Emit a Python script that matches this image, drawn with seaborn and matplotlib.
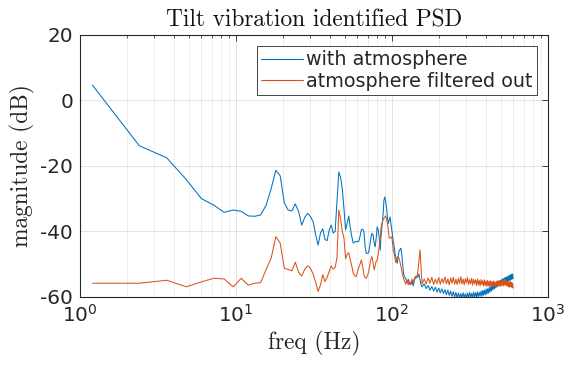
import numpy as np
import pandas as pd
import matplotlib
matplotlib.use("Agg")
import matplotlib.pyplot as plt
import seaborn as sns
from matplotlib.ticker import LogLocator, NullFormatter, FixedLocator

# ---------------- data ----------------
freq_low = [1.2, 2.4, 3.6, 4.8, 6.0, 7.2, 8.4, 9.6, 10.8, 12.0,
            13.2, 14.4, 15.6, 16.8, 18.0, 19.2, 20.4, 21.6, 22.8, 24.0,
            25.2, 26.4, 27.6, 28.8, 30.0, 31.2, 32.4, 33.6, 34.8, 36.0,
            37.2, 38.4, 39.6, 40.8, 42.0, 43.2, 44.4, 45.6, 46.8, 48.0,
            49.2, 50.4, 51.6, 52.8, 54.0, 55.2, 56.4, 57.6, 58.8, 60.0,
            61.2, 62.4, 63.6, 64.8, 66.0, 67.2, 68.4, 69.6, 70.8, 72.0,
            73.2, 74.4, 75.6, 76.8, 78.0, 79.2, 80.4, 81.6, 82.8, 84.0,
            85.2, 86.4, 87.6, 88.8, 90.0, 91.2, 92.4, 93.6, 94.8, 96.0,
            97.2, 98.4, 99.6, 100.8, 102.0, 103.2, 104.4, 105.6, 106.8, 108.0,
            109.2, 110.4, 111.6, 112.8, 114.0, 115.2, 116.4, 117.6, 118.8, 120.0]
freq_mid = [122.4, 124.8, 127.2, 129.6, 132.0, 134.4, 136.8, 139.2, 141.6, 144.0,
            146.4, 148.8, 151.2, 153.6, 156.0]
freq_high = [160.8, 165.6, 170.4, 175.2, 180.0, 184.8, 189.6, 194.4, 199.2, 204.0,
             208.8, 213.6, 218.4, 223.2, 228.0, 232.8, 237.6, 242.4, 247.2, 252.0,
             256.8, 261.6, 266.4, 271.2, 276.0, 280.8, 285.6, 290.4, 295.2, 300.0,
             304.8, 309.6, 314.4, 319.2, 324.0, 328.8, 333.6, 338.4, 343.2, 348.0,
             352.8, 357.6, 362.4, 367.2, 372.0, 376.8, 381.6, 386.4, 391.2, 396.0,
             400.8, 405.6, 410.4, 415.2, 420.0, 424.8, 429.6, 434.4, 439.2, 444.0,
             448.8, 453.6, 458.4, 463.2, 468.0, 472.8, 477.6, 482.4, 487.2, 492.0,
             496.8, 501.6, 506.4, 511.2, 516.0, 520.8, 525.6, 530.4, 535.2, 540.0,
             544.8, 549.6, 554.4, 559.2, 564.0, 568.8, 573.6, 578.4, 583.2, 588.0,
             592.8, 597.6]

with_atm_low = [4.6, -13.9, -17.6, -24.2, -30.0, -32.0, -34.2, -33.5, -33.9, -35.3,
                -35.4, -35.0, -32.0, -27.0, -21.4, -23.1, -31.3, -33.5, -33.8, -31.6,
                -34.0, -38.1, -35.7, -34.5, -35.5, -37.0, -41.0, -44.2, -40.5, -39.2,
                -42.5, -42.8, -39.5, -38.1, -40.5, -40.0, -31.0, -21.9, -23.5, -27.0,
                -33.0, -39.5, -37.5, -35.3, -38.8, -41.5, -43.5, -43.3, -43.0, -43.2,
                -43.0, -41.5, -39.5, -39.3, -40.0, -44.5, -46.7, -46.7, -46.5, -44.5,
                -42.0, -40.6, -41.0, -43.5, -44.7, -42.0, -38.6, -39.5, -42.0, -45.7,
                -41.0, -38.0, -35.0, -30.5, -29.5, -31.0, -33.0, -36.0, -37.6, -36.5,
                -35.6, -37.5, -39.6, -41.0, -43.2, -44.5, -46.5, -47.7, -48.5, -49.7,
                -48.0, -46.5, -45.7, -45.5, -45.2, -46.5, -48.7, -51.0, -53.0, -53.8]
with_atm_mid = [-54.3, -55.6, -54.6, -55.9, -56.3, -55.0, -56.6, -54.9, -54.0, -53.6,
                -53.9, -53.0, -54.7, -56.3, -56.9]
with_atm_high = [-56.0, -57.4, -56.5, -57.9, -56.8, -58.2, -57.0, -58.5, -57.3, -58.7,
                 -57.5, -58.9, -57.8, -59.3, -57.9, -59.5, -58.2, -59.8, -58.4, -60.0,
                 -58.6, -60.2, -58.8, -60.3, -58.9, -60.4, -58.7, -60.2, -59.0, -60.4,
                 -58.8, -60.1, -58.6, -60.3, -58.9, -60.0, -58.5, -60.2, -58.7, -59.9,
                 -58.4, -60.0, -58.6, -59.7, -58.2, -59.8, -58.0, -59.5, -57.9, -59.3,
                 -57.6, -59.1, -57.5, -58.8, -57.1, -58.5, -56.8, -58.2, -56.5, -57.8,
                 -56.2, -57.5, -55.9, -57.2, -55.6, -56.9, -55.3, -56.6, -55.0, -56.4,
                 -54.9, -56.2, -54.6, -55.9, -54.4, -55.8, -54.2, -55.6, -54.0, -55.5,
                 -53.9, -55.3, -53.6, -55.1, -53.5, -54.9, -53.2, -54.8, -53.1, -54.6,
                 -53.0, -54.4]

filtered_low = [-55.8, -55.8, -54.9, -56.9, -55.4, -54.3, -54.5, -56.9, -54.3, -56.4,
                -55.8, -55.6, -51.6, -48.2, -41.6, -43.6, -51.3, -51.6, -52.0, -49.4,
                -52.5, -53.6, -51.5, -50.5, -51.2, -53.0, -55.5, -58.3, -56.3, -53.2,
                -55.3, -54.0, -52.2, -50.5, -51.5, -51.0, -48.0, -33.5, -36.0, -40.0,
                -42.0, -48.3, -47.0, -46.5, -48.5, -50.5, -52.7, -53.5, -53.8, -52.5,
                -51.0, -50.0, -48.7, -50.5, -53.2, -54.0, -54.3, -53.5, -52.4, -50.5,
                -48.5, -47.7, -49.5, -51.7, -50.5, -49.0, -48.7, -47.0, -44.7, -42.0,
                -38.6, -37.5, -36.5, -36.0, -35.6, -35.3, -36.5, -37.6, -40.0, -42.1,
                -42.0, -41.8, -41.6, -43.5, -46.0, -46.7, -48.0, -49.5, -49.0, -48.0,
                -47.7, -48.0, -48.6, -49.5, -50.5, -51.7, -52.8, -53.8, -54.5, -55.0]
filtered_mid = [-56.1, -54.9, -56.3, -55.2, -56.2, -54.5, -55.7, -54.3, -53.7, -54.2,
                -52.3, -48.8, -45.6, -51.2, -56.0]
filtered_high = [-54.5, -56.0, -54.2, -55.8, -54.0, -56.2, -54.6, -55.9, -54.1, -56.1,
                 -54.4, -55.7, -53.9, -56.0, -54.5, -56.3, -54.2, -55.8, -54.0, -56.1,
                 -54.6, -56.2, -54.3, -55.9, -53.8, -56.0, -54.5, -56.3, -54.4, -55.7,
                 -54.1, -56.2, -54.7, -56.0, -54.3, -56.4, -54.6, -55.9, -54.8, -56.5,
                 -54.5, -56.3, -54.9, -56.6, -54.7, -56.2, -55.0, -56.7, -54.8, -56.5,
                 -55.1, -56.8, -54.9, -56.6, -55.2, -56.9, -55.0, -56.7, -55.3, -56.8,
                 -55.1, -56.6, -55.4, -56.9, -55.2, -56.7, -55.0, -56.5, -55.3, -56.8,
                 -55.1, -56.6, -54.8, -56.4, -55.0, -56.7, -54.6, -56.3, -54.9, -56.5,
                 -55.2, -56.7, -55.0, -56.9, -55.4, -57.0, -55.2, -56.8, -55.6, -57.1,
                 -55.8, -57.3]

series_names = ["with atmosphere", "atmosphere filtered out"]
colors = ["#0072BD", "#D95319"]
title_text = "Tilt vibration identified PSD"
xlabel_text = "freq (Hz)"
ylabel_text = "magnitude (dB)"
y_ticks = [-60, -40, -20, 0, 20]
x_ticks = [1, 10, 100, 1000]

freq = freq_low + freq_mid + freq_high
vals = [with_atm_low + with_atm_mid + with_atm_high,
        filtered_low + filtered_mid + filtered_high]

frames = []
for name, v in zip(series_names, vals):
    frames.append(pd.DataFrame({"freq": freq, "mag": v, "series": name}))
df = pd.concat(frames, ignore_index=True)

# ---------------- style ----------------
sns.set_style("white")
plt.rcParams["font.family"] = ["DejaVu Sans"]
plt.rcParams["axes.unicode_minus"] = False

fig = plt.figure(figsize=(5.69, 3.70), dpi=100)
ax = fig.add_axes([80 / 569, 1 - 297 / 370, (548 - 80) / 569, (297 - 34.5) / 370])

sns.lineplot(data=df, x="freq", y="mag", hue="series", hue_order=series_names,
             palette=colors, estimator=None, sort=False, linewidth=0.75, ax=ax)

ax.set_xscale("log")
ax.set_xlim(1, 1000)
ax.set_ylim(-60, 20)
ax.xaxis.set_major_locator(FixedLocator(x_ticks))
ax.xaxis.set_minor_locator(LogLocator(base=10, subs=np.arange(2, 10)))
ax.xaxis.set_minor_formatter(NullFormatter())
ax.set_yticks(y_ticks)

edge = "#262626"
for s in ax.spines.values():
    s.set_color(edge)
    s.set_linewidth(0.8)
    s.set_visible(True)

ax.tick_params(axis="both", which="both", direction="in", top=True, right=True,
               colors=edge, labelcolor="#262626")
ax.tick_params(axis="both", which="major", length=4.5, width=0.6, labelsize=14.4, pad=5)
ax.tick_params(axis="x", which="minor", length=2.5, width=0.5)
ax.tick_params(axis="y", which="minor", left=False, right=False)

ax.grid(True, which="major", color="#dedede", linewidth=0.6, linestyle="-")
ax.grid(True, which="minor", axis="x", color="#d0d0d0", linewidth=0.5, linestyle=(0, (1.5, 1.5)))
ax.set_axisbelow(True)

ax.set_title(title_text, family="cmr10", fontsize=16.8, color="#111111", pad=6)
ax.set_xlabel(xlabel_text, family="cmr10", fontsize=16.8, color="#262626", labelpad=4)
ax.set_ylabel(ylabel_text, family="cmr10", fontsize=16.8, color="#262626", labelpad=4)

leg = ax.legend(loc="upper right", fontsize=13.8, frameon=True, fancybox=False,
                framealpha=1, edgecolor=edge, handlelength=2.2, handletextpad=0.15,
                borderpad=0.22, labelspacing=0.14, borderaxespad=0.6)
leg.get_frame().set_linewidth(0.6)
for line in leg.get_lines():
    line.set_linewidth(0.8)

fig.savefig("out.png", dpi=100)
